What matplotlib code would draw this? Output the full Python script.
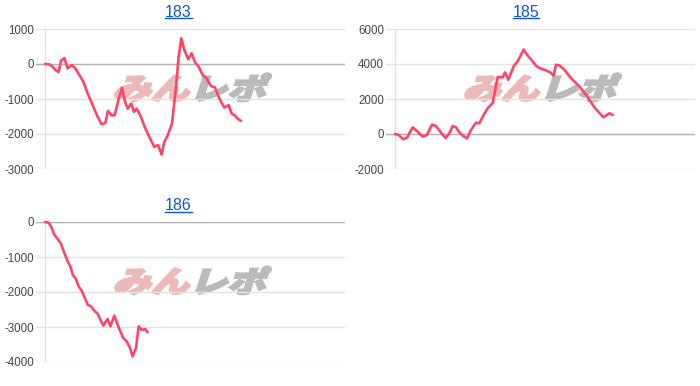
import matplotlib
matplotlib.use("Agg")
import matplotlib.pyplot as plt
from matplotlib.textpath import TextPath
from matplotlib.font_manager import FontProperties
from matplotlib.patches import PathPatch
from matplotlib.transforms import Affine2D
from matplotlib.lines import Line2D

# ---------------- data ----------------
titles = ["183", "185", "186"]

x183 = [0, 130, 230, 310, 410, 480, 580, 680, 810, 910, 1030, 1150, 1280, 1430, 1580,
        1700, 1810, 1890, 1990, 2090, 2200, 2310, 2390, 2480, 2590, 2670, 2750, 2880,
        2990, 3130, 3280, 3390, 3500, 3580, 3680, 3810, 3930, 4010, 4090, 4180, 4300,
        4400, 4500, 4610, 4730, 4830, 4980, 5100, 5230, 5380, 5510, 5600, 5700, 5780, 5880]
y183 = [0, -10, -75, -170, -230, 95, 170, -125, -30, -125, -315, -505, -840, -1175, -1510,
        -1720, -1685, -1340, -1465, -1465, -1035, -680, -1035, -1275, -1130, -1370, -1275,
        -1510, -1800, -2085, -2370, -2315, -2585, -2230, -2040, -1700, -650, 210, 735, 400,
        135, 305, 50, -75, -315, -385, -630, -670, -985, -1245, -1175, -1415, -1475, -1560,
        -1625]

x185 = [0, 100, 250, 360, 530, 660, 830, 960, 1110, 1230, 1380, 1520, 1630, 1730, 1830,
        1930, 2050, 2160, 2280, 2430, 2530, 2660, 2780, 2930, 3080, 3230, 3300, 3400, 3560,
        3680, 3860, 3980, 4130, 4230, 4330, 4530, 4660, 4760, 4830, 4930, 5080, 5280, 5530,
        5730, 5980, 6250, 6430, 6530]
y185 = [0, -40, -305, -210, 380, 170, -150, -55, 535, 460, 75, -230, 40, 460, 380, 95,
        -115, -250, 230, 650, 610, 1090, 1475, 1760, 3255, 3235, 3520, 3100, 3865, 4150,
        4825, 4480, 4155, 3905, 3770, 3635, 3520, 3330, 3960, 3925, 3675, 3195, 2715, 2240,
        1530, 955, 1185, 1090]

x186 = [0, 110, 180, 280, 380, 480, 580, 680, 760, 830, 930, 1010, 1110, 1210, 1280, 1380,
        1480, 1580, 1660, 1750, 1810, 1880, 1960, 2080, 2180, 2260, 2350, 2450, 2550, 2630,
        2730, 2810, 2890, 2950, 3000, 3080]
y186 = [0, -20, -125, -360, -485, -620, -885, -1125, -1265, -1505, -1630, -1840, -1980,
        -2200, -2360, -2410, -2535, -2620, -2790, -2960, -2865, -2770, -2980, -2675, -2935,
        -3125, -3315, -3410, -3600, -3840, -3600, -2980, -3075, -3075, -3055, -3150]

yticks183 = [-3000, -2000, -1000, 0, 1000]
yticks185 = [-2000, 0, 2000, 4000, 6000]
yticks186 = [-4000, -3000, -2000, -1000, 0]

series = [(x183, y183, yticks183), (x185, y185, yticks185), (x186, y186, yticks186)]

# ---------------- layout ----------------
W, H = 700, 386
fig = plt.figure(figsize=(W / 100, H / 100), dpi=100)
fig.patch.set_facecolor("white")

# (cell_left, axes_top, axes_bottom, title_center_x, title_baseline_y)
cells = [(0, 29, 169, 178.5, 16.7), (350, 29, 169, 526, 16.7), (0, 222, 362, 178.5, 210)]

LINE_COLOR = "#ff4466"
TITLE_COLOR = "#1155cc"
TICK_COLOR = "#444444"
GRID_COLOR = "#e3e3e3"
BASE_COLOR = "#b3b3b3"

fp_wm = FontProperties(family="Noto Sans CJK JP", weight="black")
tp_all = TextPath((0, 0), "みんレポ", size=1, prop=fp_wm)
tp_a = TextPath((0, 0), "みん", size=1, prop=fp_wm)
tp_b = TextPath((2, 0), "レポ", size=1, prop=fp_wm)
ext = tp_all.get_extents()

title_texts = []
for (cl, top, bot, tcx, tby), (xs, ys, yt), title in zip(cells, series, titles):
    left = cl + 36
    right = cl + 345
    ax = fig.add_axes([left / W, 1 - bot / H, (right - left) / W, (bot - top) / H])
    ax.set_facecolor("none")
    for s in ax.spines.values():
        s.set_visible(False)
    ax.set_xlim(-270, 9000)
    ax.set_ylim(min(yt), max(yt))
    ax.set_yticks(yt)
    ax.set_yticklabels([str(v) for v in yt])
    ax.set_xticks([])
    ax.tick_params(axis="y", length=0, pad=1.5, labelsize=8.3, labelcolor=TICK_COLOR)
    for lab in ax.get_yticklabels():
        lab.set_fontfamily("Liberation Sans")
    ax.yaxis.grid(True, color=GRID_COLOR, lw=1, zorder=1)
    ax.set_axisbelow(True)
    ax.axvline(0, color=GRID_COLOR, lw=1, zorder=1)
    ax.axhline(0, color=BASE_COLOR, lw=1, zorder=1.1)
    ax.plot(xs, ys, color=LINE_COLOR, lw=1.9, solid_joinstyle="round",
            solid_capstyle="round", zorder=3, clip_on=False)

    # watermark (in pixel units)
    wm_w, wm_h, shear = 150, 28, 18
    x_left = cl + 113
    y_bottom = H - (top + 44.5 + wm_h)
    base = (Affine2D().translate(-ext.x0, -ext.y0)
            .scale(wm_w / ext.width, wm_h / ext.height)
            .skew_deg(shear, 0)
            .translate(x_left, y_bottom)
            .scale(1 / 100.0)) + fig.dpi_scale_trans
    pa = PathPatch(tp_a, transform=base, facecolor="#ecb9b9", edgecolor="#ecb9b9",
                   lw=1.6, zorder=0.5)
    pb = PathPatch(tp_b, transform=base, facecolor="#bababa", edgecolor="#bababa",
                   lw=1.6, zorder=0.5)
    ax.add_artist(pa)
    ax.add_artist(pb)

    t = fig.text(tcx / W, 1 - tby / H, title, ha="center", va="baseline",
                 color=TITLE_COLOR, fontsize=11.5, family="Liberation Sans")
    title_texts.append((t, tby))

fig.canvas.draw()
r = fig.canvas.get_renderer()
for t, tby in title_texts:
    bb = t.get_window_extent(r)
    yl = (H - (tby + 1.5)) / H
    fig.add_artist(Line2D([bb.x0 / W, bb.x1 / W], [yl, yl], transform=fig.transFigure,
                          color=TITLE_COLOR, lw=1.0))

fig.savefig("out.png", dpi=100, facecolor="white")
